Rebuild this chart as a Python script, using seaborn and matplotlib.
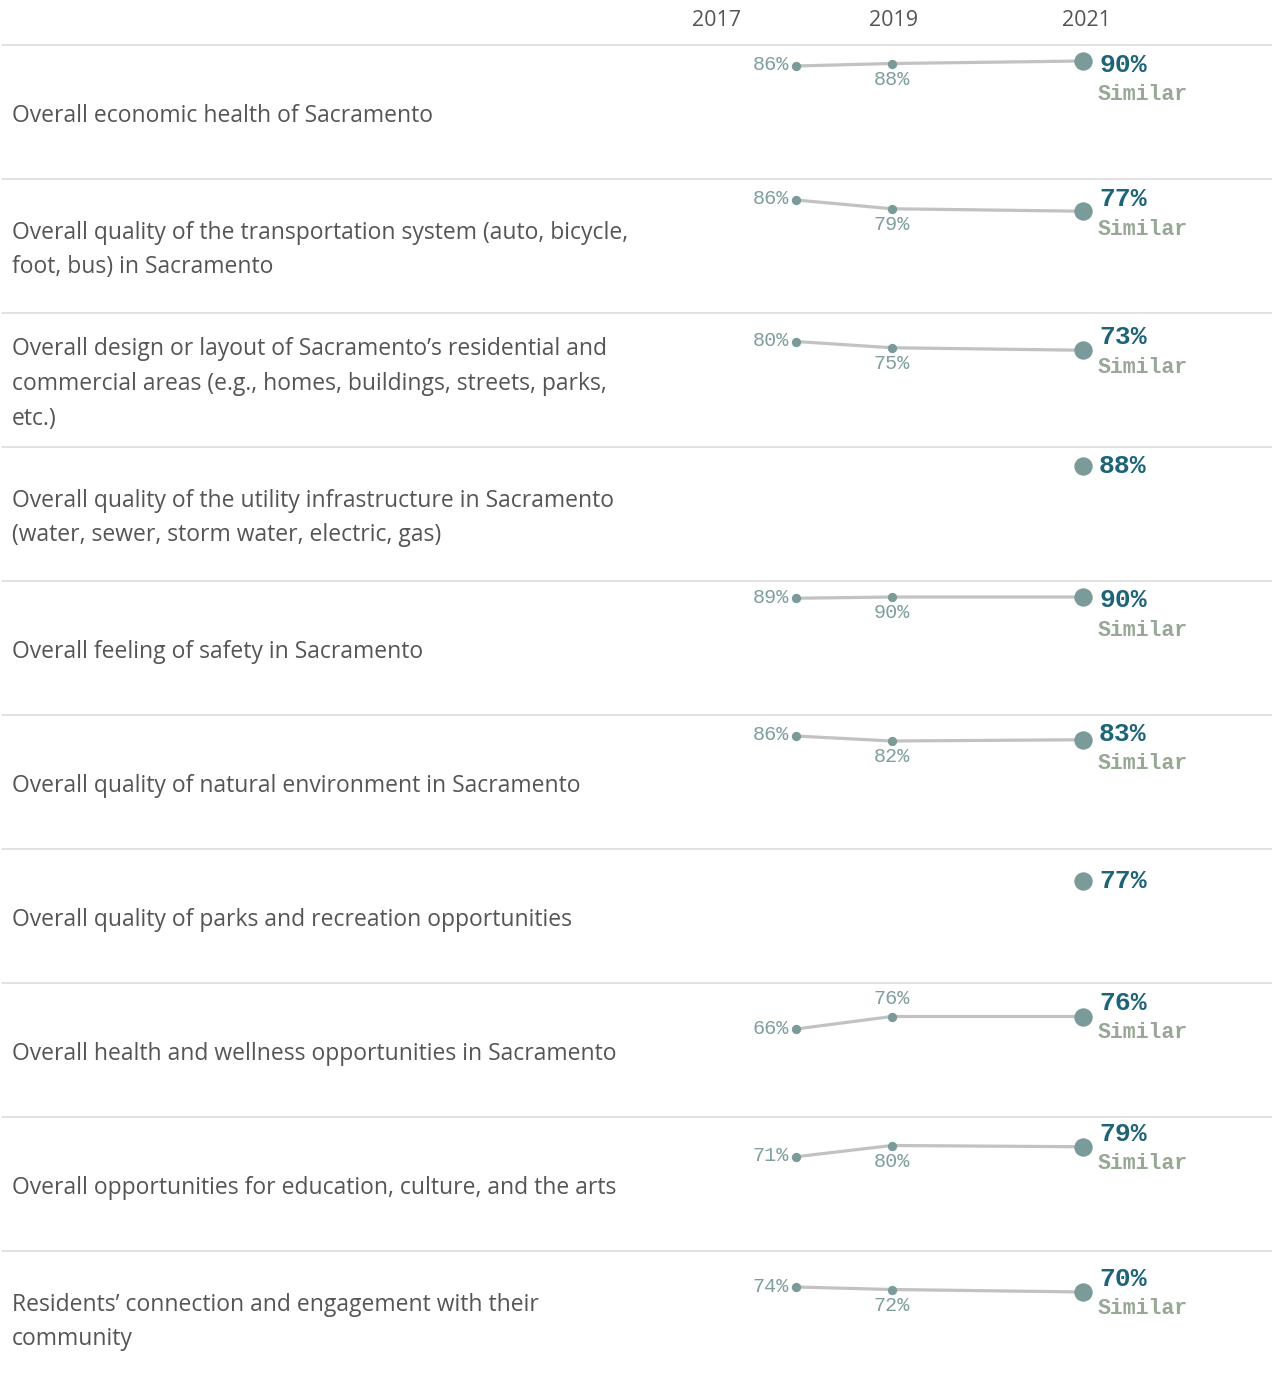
import numpy as np
import pandas as pd
import matplotlib
matplotlib.use("Agg")
import matplotlib.pyplot as plt
from matplotlib.lines import Line2D
import seaborn as sns

# ---- data -------------------------------------------------------------
measures = [
    "Overall economic health of Sacramento",
    "Overall quality of the transportation system (auto, bicycle,\nfoot, bus) in Sacramento",
    "Overall design or layout of Sacramento\u2019s residential and\ncommercial areas (e.g., homes, buildings, streets, parks,\netc.)",
    "Overall quality of the utility infrastructure in Sacramento\n(water, sewer, storm water, electric, gas)",
    "Overall feeling of safety in Sacramento",
    "Overall quality of natural environment in Sacramento",
    "Overall quality of parks and recreation opportunities",
    "Overall health and wellness opportunities in Sacramento",
    "Overall opportunities for education, culture, and the arts",
    "Residents\u2019 connection and engagement with their\ncommunity",
]
years = [2017, 2019, 2021]
pct_2017 = [86, 86, 80, None, 89, 86, None, 66, 71, 74]
pct_2019 = [88, 79, 75, None, 90, 82, None, 76, 80, 72]
pct_2021 = [90, 77, 73, 88, 90, 83, 77, 76, 79, 70]
comparison = ["Similar", "Similar", "Similar", None, "Similar", "Similar",
              None, "Similar", "Similar", "Similar"]

# ---- label placement (pixels) ----------------------------------------
latest_label_dy = [3, -13, -14, -1, 2, -7, -1, -15, -14, -14]   # + = lower
mid_label_side = ["below", "below", "below", None, "below", "below",
                  None, "above", "below", "below"]

# ---- style -------------------------------------------------------------
text_gray = "#555555"
point_color = "#7b9a9a"
line_color = "#c2c2c2"
small_lab_color = "#7f9e9e"
big_lab_color = "#1d6478"
cmp_color = "#97a895"
rule_color = "#dddddd"
mono = ["Liberation Mono", "DejaVu Sans Mono"]

sns.set_theme(style="white")
plt.rcParams["font.family"] = ["Open Sans", "DejaVu Sans"]

W, H, DPI = 1272, 1381, 100
fig = plt.figure(figsize=(W / DPI, H / DPI), dpi=DPI)

rows = []
for m, a, b, c in zip(measures, pct_2017, pct_2019, pct_2021):
    for y, v in zip(years, (a, b, c)):
        rows.append({"measure": m, "year": y, "pct": v})
df = pd.DataFrame(rows).dropna()


# survey spacing on the time axis: 2019->2021 gap drawn twice as wide
def fwd(x):
    x = np.asarray(x, dtype=float)
    return np.where(x <= 2019, (x - 2017) / 2.0, 1.0 + (x - 2019))


def inv(u):
    u = np.asarray(u, dtype=float)
    return np.where(u <= 1, 2017 + 2.0 * u, 2019 + (u - 1.0))


header_h = 45
row_h = 134
x0_px, px_per_u = 796, 95.67
u_left = -x0_px / px_per_u
u_right = (W - x0_px) / px_per_u

for i, m in enumerate(measures):
    top = header_h + row_h * i
    ax = fig.add_axes([0, 1 - (top + row_h) / H, 1, row_h / H])
    ax.set_xscale("function", functions=(fwd, inv))
    ax.set_xlim(float(inv(u_left)), float(inv(u_right)))
    ax.set_ylim(-4.4, 102.8)
    ax.axis("off")

    d = df[df.measure == m]
    if len(d) > 1:
        sns.lineplot(data=d, x="year", y="pct", color=line_color,
                     linewidth=2.3, ax=ax, zorder=1, legend=False)
    prior = d[d.year < 2021]
    latest = d[d.year == 2021]
    if len(prior):
        sns.scatterplot(data=prior, x="year", y="pct", color=point_color,
                        s=45, linewidth=0, ax=ax, zorder=3, legend=False)
    sns.scatterplot(data=latest, x="year", y="pct", color=point_color,
                    s=175, linewidth=0, ax=ax, zorder=3, legend=False)

    # earlier survey labels
    if pct_2017[i] is not None:
        ax.annotate(f"{pct_2017[i]}%", xy=(2017, pct_2017[i]), xytext=(-7, 1),
                    textcoords="offset pixels", ha="right", va="center",
                    family=mono, fontsize=14.5, color=small_lab_color)
    if pct_2019[i] is not None:
        dy = -16 if mid_label_side[i] == "below" else 18
        ax.annotate(f"{pct_2019[i]}%", xy=(2019, pct_2019[i]), xytext=(0, dy),
                    textcoords="offset pixels", ha="center", va="center",
                    family=mono, fontsize=14.5, color=small_lab_color)
    # latest survey label and comparison
    dy = -latest_label_dy[i] - 1
    ax.annotate(f"{pct_2021[i]}%", xy=(2021, pct_2021[i]), xytext=(16, dy),
                textcoords="offset pixels", ha="left", va="center",
                family=mono, fontsize=19, fontweight="bold", color=big_lab_color)
    if comparison[i]:
        ax.annotate(comparison[i], xy=(2021, pct_2021[i]), xytext=(15, dy - 30),
                    textcoords="offset pixels", ha="left", va="center",
                    family=mono, fontsize=15.5, fontweight="bold", color=cmp_color)

    # row label
    fig.text(12 / W, 1 - (top + row_h / 2 + 4) / H, m, ha="left", va="center",
             fontsize=16.5, color=text_gray, linespacing=1.6)

    # row rule
    fig.add_artist(Line2D([2 / W, 1], [1 - top / H] * 2, transform=fig.transFigure,
                          color=rule_color, linewidth=1.2))

# column header
for yr, xc in zip(years, [717, 894, 1086]):
    fig.text(xc / W, 1 - 21 / H, str(yr), ha="center", va="center",
             fontsize=15.5, color=text_gray)

fig.savefig("out.png", dpi=DPI)
